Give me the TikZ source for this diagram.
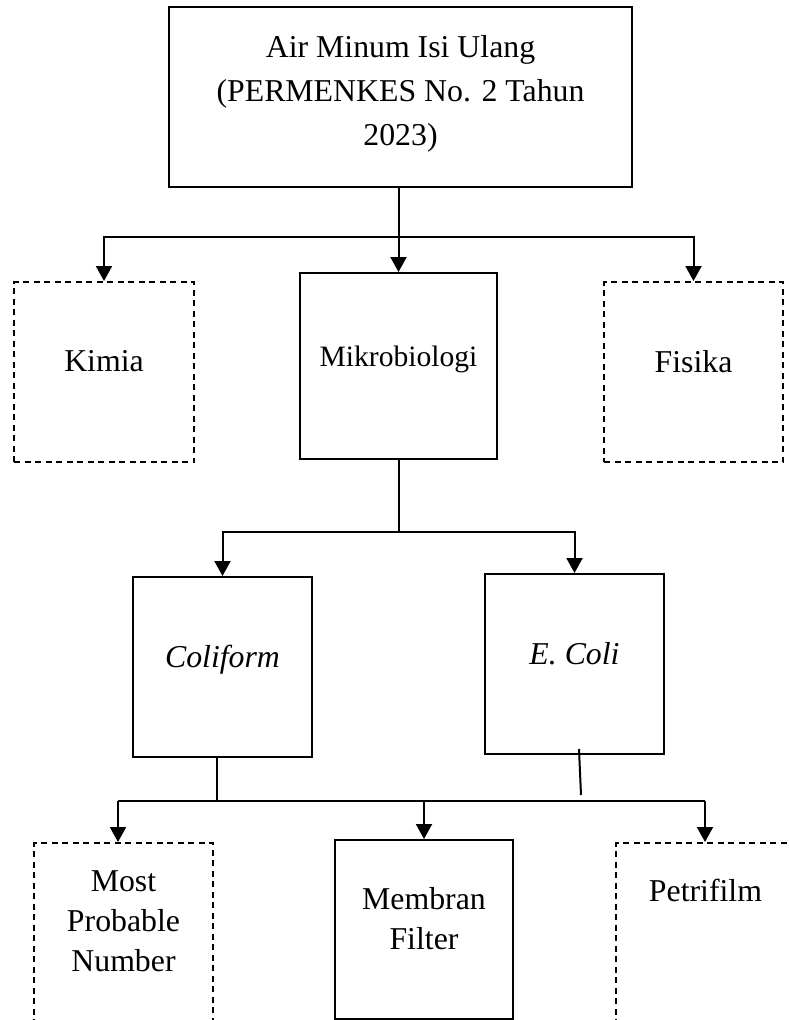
\documentclass[tikz,border=0pt]{standalone}
\usepackage{fontspec}
\setmainfont{Liberation Serif}
\usetikzlibrary{arrows.meta}
\newcommand{\tb}[2]{\raisebox{#1}[\height][\depth]{\begin{tabular}{@{}c@{}}#2\end{tabular}}}
\begin{document}
\begin{tikzpicture}[x=1pt,y=-1pt,line width=2pt,
  box/.style={draw,rectangle,inner sep=0pt,line width=2pt,
    font=\fontsize{31.8}{44}\selectfont},
  lowbox/.style={box,font=\fontsize{31.8}{40}\selectfont},
  dbox/.style={dash pattern=on 6pt off 4.5pt},
  arr/.style={-{Triangle[length=15pt,width=16pt]}}]
\useasboundingbox (0,0) rectangle (788,1020);
\clip (0,0) rectangle (788,1020);

% nodes
\node[box,minimum width=463pt,minimum height=180pt] (top) at (400.5,97)
  {\tb{4.5pt}{Air Minum Isi Ulang\\(PERMENKES No. 2 Tahun\\2023)}};
\node[box,dbox,minimum width=180pt,minimum height=180pt] (kimia) at (104,372)
  {\tb{9.5pt}{Kimia}};
\node[box,minimum width=197pt,minimum height=186pt,font=\fontsize{29.6}{44}\selectfont] (mik) at (398.5,366)
  {\tb{8.5pt}{Mikrobiologi}};
\node[box,dbox,minimum width=179pt,minimum height=180pt] (fisika) at (693.5,372)
  {\tb{8.5pt}{Fisika}};
\node[box,minimum width=179pt,minimum height=180pt] (coli) at (222.5,667)
  {\tb{8.5pt}{\textit{Coliform}}};
\node[box,minimum width=179pt,minimum height=180pt] (ecoli) at (574.5,664)
  {\tb{8.5pt}{\textit{E. Coli}}};
\node[lowbox,dbox,minimum width=179pt,minimum height=180pt] (mpn) at (123.5,933)
  {\tb{9.5pt}{Most\\Probable\\Number}};
\node[lowbox,minimum width=178pt,minimum height=179pt] (memb) at (424,929.5)
  {\tb{8pt}{Membran\\Filter}};
\node[lowbox,dbox,minimum width=179pt,minimum height=180pt] (petri) at (705.5,933)
  {\tb{39.5pt}{Petrifilm}};

% junctions
\coordinate (j1) at (398.5,237);
\coordinate (j2) at (398.5,531.5);
\coordinate (j3) at (217,801);
\coordinate (b1) at (118,801);
\coordinate (b3) at (705,801);
\coordinate (e1) at (581,795);

% connectors
\draw (j1 |- top.south) -- (j1);
\draw[arr] (j1) -- (mik.north);
\draw[arr] (j1) -| (kimia.north);
\draw[arr] (j1) -| (fisika.north);

\draw (mik.south) -- (j2);
\draw[arr] (j2) -| (coli.north);
\draw[arr] (j2) -| (ecoli.north);

\draw (j3 |- coli.south) -- (j3);
\draw ([xshift=4.5pt,yshift=6pt]ecoli.south) -- (e1);
\draw (b1) -- (b3);
\draw[arr] (b1) -- (b1 |- mpn.north);
\draw[arr] (memb.north |- b1) -- (memb.north);
\draw[arr] (b3) -- (b3 |- petri.north);
\end{tikzpicture}
\end{document}
